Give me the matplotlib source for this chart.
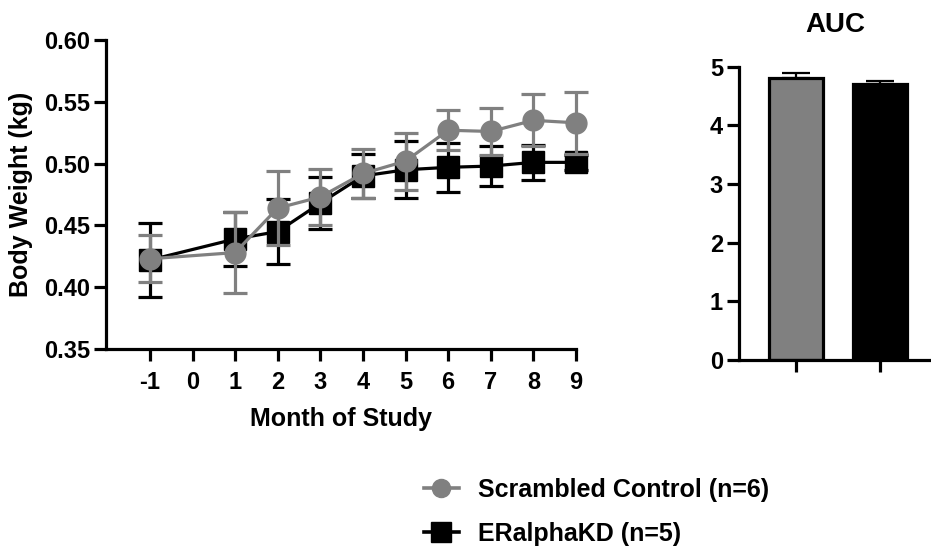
import matplotlib
matplotlib.use("Agg")
import matplotlib.pyplot as plt
from matplotlib.lines import Line2D
import numpy as np

plt.rcParams['font.family'] = ['Liberation Sans', 'DejaVu Sans']
plt.rcParams['font.weight'] = 'bold'

months = [-1, 1, 2, 3, 4, 5, 6, 7, 8, 9]
xticks = [-1, 0, 1, 2, 3, 4, 5, 6, 7, 8, 9]

scr_mean = [0.423, 0.428, 0.464, 0.473, 0.492, 0.502, 0.527, 0.526, 0.535, 0.533]
scr_sem = [0.019, 0.033, 0.030, 0.023, 0.020, 0.023, 0.016, 0.019, 0.021, 0.025]

kd_mean = [0.422, 0.439, 0.445, 0.468, 0.490, 0.495, 0.497, 0.498, 0.501, 0.501]
kd_sem = [0.030, 0.022, 0.026, 0.021, 0.018, 0.023, 0.020, 0.016, 0.014, 0.006]

auc_labels = ["Scrambled Control (n=6)", "ERalphaKD (n=5)"]
auc_vals = [4.81, 4.71]
auc_err = [0.09, 0.05]

grey = '#808080'
lw = 2.3
fs_tick = 17
fs_lab = 18

fig = plt.figure(figsize=(9.31, 5.48), dpi=100)
ax = fig.add_axes([106/931, 1-349/548, (576-106)/931, (349-40)/548])

h_kd = ax.errorbar(months, kd_mean, yerr=kd_sem, color='black', marker='s', markersize=16,
                   lw=lw, elinewidth=lw, capsize=8.5, capthick=lw, zorder=3)
h_scr = ax.errorbar(months, scr_mean, yerr=scr_sem, color=grey, marker='o', markersize=15,
                    lw=lw, elinewidth=lw, capsize=8.5, capthick=lw, zorder=4)
for cont in (h_kd, h_scr):
    for art in [cont.lines[0], *cont.lines[1], *cont.lines[2]]:
        art.set_clip_on(False)

ax.set_xlim(-2.03, 9)
ax.set_ylim(0.35, 0.60)
ax.set_xticks(xticks)
ax.set_xticklabels([str(t) for t in xticks])
ax.set_yticks([0.35, 0.40, 0.45, 0.50, 0.55, 0.60])
ax.set_yticklabels(['0.35', '0.40', '0.45', '0.50', '0.55', '0.60'])
for s in ['top', 'right']:
    ax.spines[s].set_visible(False)
for s in ['left', 'bottom']:
    ax.spines[s].set_linewidth(lw)
ax.tick_params(axis='both', direction='out', length=8.5, width=lw, labelsize=fs_tick)
ax.tick_params(axis='x', pad=7)
ax.tick_params(axis='y', pad=3)
ax.set_ylabel('Body Weight (kg)', fontsize=fs_lab, fontweight='bold', labelpad=8)
ax.set_xlabel('Month of Study', fontsize=fs_lab, fontweight='bold', labelpad=10)

# AUC panel
ax2 = fig.add_axes([739/931, 1-360/548, (931-739)/931, (360-66.7)/548])
pos = [0, 1]
ax2.bar(pos, auc_vals, width=0.64, color=[grey, 'black'], edgecolor='black', linewidth=lw, zorder=2)
ax2.errorbar(pos, auc_vals, yerr=[[0, 0], auc_err], fmt='none', ecolor='black', elinewidth=1.6,
             capsize=10, capthick=1.6, zorder=1)
ax2.set_xlim(-0.68, 1.61)
ax2.set_ylim(0, 5)
ax2.set_yticks([0, 1, 2, 3, 4, 5])
ax2.set_xticks(pos)
ax2.set_xticklabels(['', ''])
for s in ['top', 'right']:
    ax2.spines[s].set_visible(False)
for s in ['left', 'bottom']:
    ax2.spines[s].set_linewidth(lw)
ax2.tick_params(axis='both', direction='out', length=8.5, width=lw, labelsize=fs_tick, pad=3)
ax2.set_title('AUC', fontsize=20, fontweight='bold', pad=25)

handles = [Line2D([], [], color=grey, marker='o', markersize=13, lw=2.6),
           Line2D([], [], color='black', marker='s', markersize=15, lw=2.6)]
fig.legend(handles, auc_labels, loc='upper left', bbox_to_anchor=(401/931, 1-455/548),
           frameon=False, handlelength=1.4, handletextpad=0.76, labelspacing=0.8,
           prop={'weight': 'bold', 'size': fs_lab})

fig.savefig('out.png', dpi=100)
